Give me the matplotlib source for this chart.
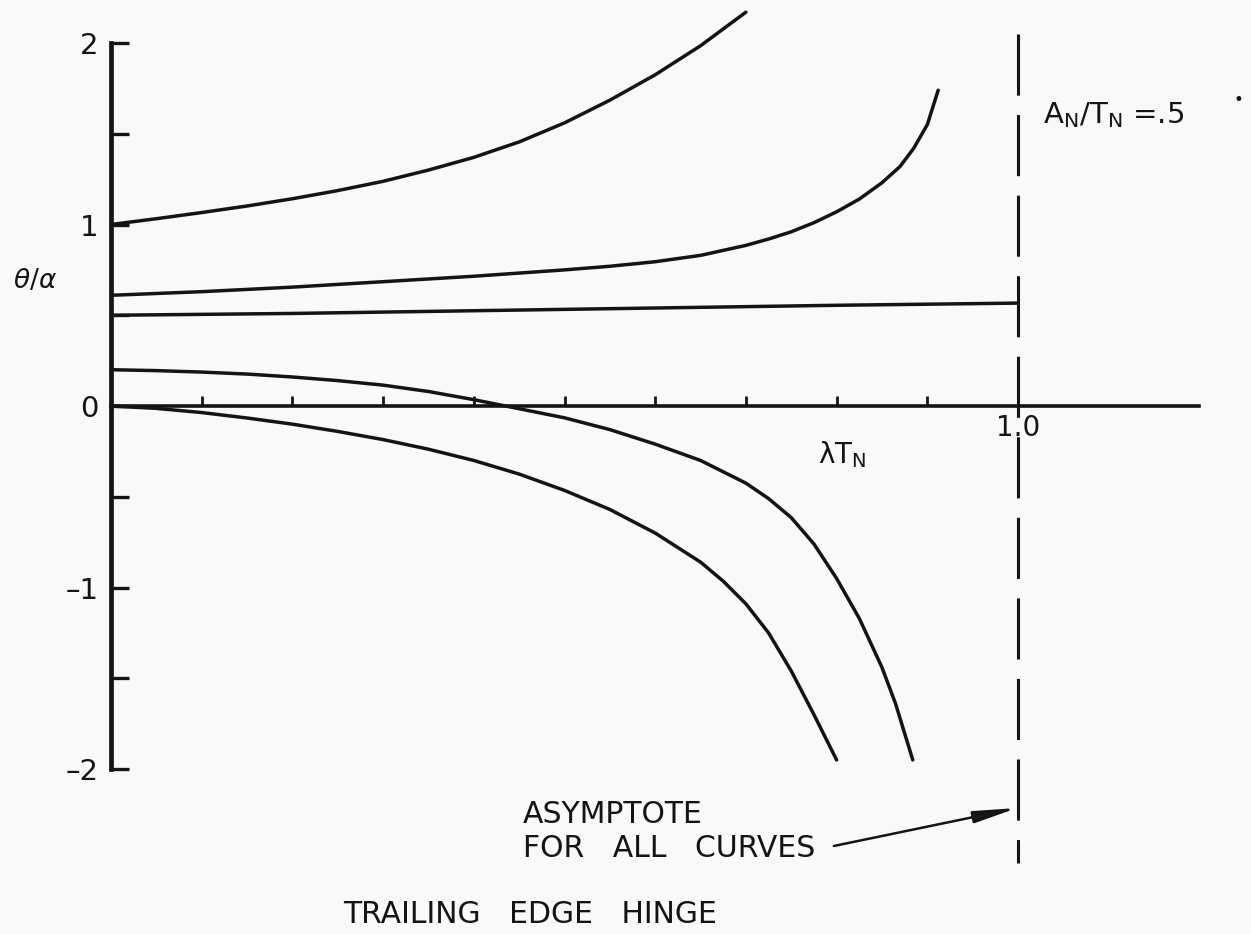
import matplotlib
matplotlib.use("Agg")
import matplotlib.pyplot as plt

plt.rcParams['font.family'] = ['DejaVu Sans']
plt.rcParams['mathtext.fontset'] = 'dejavusans'
plt.rcParams['lines.scale_dashes'] = False

ink = '#141414'

# curves: theta/alpha against lambda*T_N
x_a = [0, 0.05, 0.10, 0.15, 0.20, 0.25, 0.30, 0.35, 0.40, 0.45, 0.50, 0.55, 0.60, 0.65, 0.70]
y_a = [1.00, 1.032, 1.066, 1.102, 1.142, 1.187, 1.238, 1.30, 1.37, 1.455, 1.56, 1.685, 1.825, 1.985, 2.17]

x_b = [0, 0.10, 0.20, 0.30, 0.40, 0.50, 0.55, 0.60, 0.65, 0.70, 0.725, 0.75, 0.775, 0.80,
       0.825, 0.85, 0.87, 0.885, 0.90, 0.912]
y_b = [0.61, 0.63, 0.655, 0.685, 0.715, 0.75, 0.77, 0.795, 0.83, 0.885, 0.92, 0.96, 1.01, 1.07,
       1.14, 1.23, 1.32, 1.42, 1.55, 1.74]

x_c = [0, 0.2, 0.4, 0.6, 0.8, 1.0]
y_c = [0.50, 0.51, 0.525, 0.54, 0.555, 0.567]

x_d = [0, 0.05, 0.10, 0.15, 0.20, 0.25, 0.30, 0.35, 0.40, 0.43, 0.45, 0.50, 0.55, 0.60, 0.65,
       0.70, 0.725, 0.75, 0.775, 0.80, 0.825, 0.85, 0.865, 0.884]
y_d = [0.20, 0.195, 0.187, 0.176, 0.16, 0.14, 0.115, 0.08, 0.035, 0.005, -0.015, -0.065, -0.13,
       -0.21, -0.30, -0.425, -0.51, -0.615, -0.76, -0.95, -1.17, -1.44, -1.64, -1.95]

x_e = [0, 0.05, 0.10, 0.15, 0.20, 0.25, 0.30, 0.35, 0.40, 0.45, 0.50, 0.55, 0.60, 0.65, 0.675,
       0.70, 0.725, 0.75, 0.775, 0.80]
y_e = [0, -0.013, -0.036, -0.066, -0.10, -0.14, -0.185, -0.238, -0.30, -0.375, -0.465, -0.57,
       -0.70, -0.86, -0.965, -1.09, -1.25, -1.46, -1.70, -1.95]

asymptote_x = 1.0
asymptote_span = [2.05, -2.52]

y_major = [-2, -1, 0, 1, 2]
y_minor = [-1.5, -0.5, 0.5, 1.5]
x_ticks = [0.1, 0.2, 0.3, 0.4, 0.5, 0.6, 0.7, 0.8, 0.9, 1.0]
x_ticklabels = ['', '', '', '', '', '', '', '', '', '1.0']

fig = plt.figure(figsize=(12.51, 9.34), dpi=100, facecolor='#f9f9f9')
ax = fig.add_axes([0, 0, 1, 1])
ax.set_facecolor('#f9f9f9')
ax.set_xlim(-0.1224, 1.2569)
ax.set_ylim(-2.909, 2.237)

for xs, ys in [(x_a, y_a), (x_b, y_b), (x_c, y_c), (x_d, y_d), (x_e, y_e)]:
    ax.plot(xs, ys, color=ink, lw=2.5, solid_capstyle='round', solid_joinstyle='round')

ax.plot([asymptote_x, asymptote_x], asymptote_span, color=ink, lw=2.2,
        dashes=(44, 14), dash_capstyle='butt')

# axes drawn through the origin like the original plate
for side in ['top', 'right']:
    ax.spines[side].set_visible(False)
ax.spines['left'].set_position(('data', 0))
ax.spines['bottom'].set_position(('data', 0))
ax.spines['left'].set_bounds(-2, 2)
ax.spines['bottom'].set_bounds(0, 1.2)
ax.spines['left'].set_linewidth(3.4)
ax.spines['bottom'].set_linewidth(2.6)
ax.spines['left'].set_color(ink)
ax.spines['bottom'].set_color(ink)

ax.set_yticks(y_major)
ax.set_yticklabels([str(v).replace('-', '–') for v in y_major])
ax.set_yticks(y_minor, minor=True)
ax.set_xticks(x_ticks)
ax.set_xticklabels(x_ticklabels)
ax.tick_params(axis='y', which='both', direction='in', length=13, width=2.4,
               color=ink, labelsize=21, pad=9, labelcolor=ink)
ax.tick_params(axis='x', direction='in', length=7, width=2.0, color=ink,
               labelsize=20, pad=6, labelcolor=ink)

ax.text(-0.084, 0.689, r'$\theta/\alpha$', fontsize=19, ha='center', va='center', color=ink)
ax.text(0.78, -0.314, r'λT$_\mathregular{N}$', fontsize=20, ha='left', va='baseline', color=ink)
ax.text(1.028, 1.559, r'$\mathregular{A_N/T_N}$ =.5', fontsize=21, ha='left', va='baseline', color=ink)
ax.text(1.2426, 1.686, '•', fontsize=12, ha='center', va='center', color=ink)

ax.text(0.454, -2.298, 'ASYMPTOTE', fontsize=21.5, ha='left', va='baseline', color=ink)
ax.text(0.454, -2.485, 'FOR   ALL   CURVES', fontsize=21.5, ha='left', va='baseline', color=ink)
ax.text(0.256, -2.848, 'TRAILING   EDGE   HINGE', fontsize=21.5, ha='left', va='baseline', color=ink)

ax.annotate('', xy=(0.999, -2.215), xytext=(0.797, -2.424),
            arrowprops=dict(arrowstyle='-|>,head_length=1.3,head_width=0.18',
                            mutation_scale=20, lw=1.8, color=ink, shrinkA=0, shrinkB=0))

fig.savefig('out.png', dpi=100, facecolor=fig.get_facecolor())
